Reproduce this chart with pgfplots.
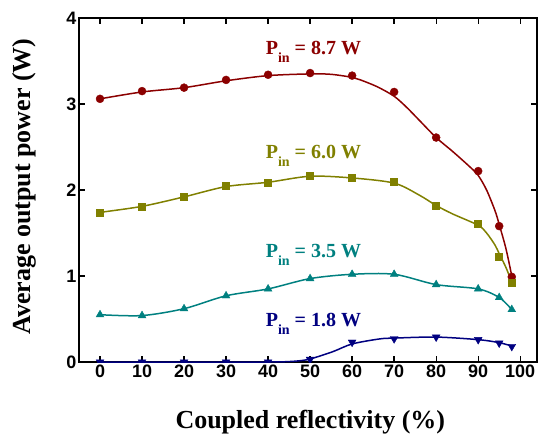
\documentclass[border=0pt]{standalone}
\usepackage{pgfplots}
\pgfplotsset{compat=1.18}
\usepackage{fontspec}
\setmainfont{Liberation Serif}
\setsansfont{Liberation Sans}
\definecolor{cwine}{RGB}{139,0,0}
\definecolor{colive}{RGB}{128,128,0}
\definecolor{cteal}{RGB}{0,128,128}
\definecolor{cnavy}{RGB}{0,0,128}
\newcommand{\Pin}[1]{P\raisebox{-8pt}{\fontsize{14}{14}\selectfont in} = #1 W}
\begin{document}
\begin{tikzpicture}
\useasboundingbox (-79pt,-72pt) rectangle (461pt,362pt);
\begin{axis}[
  at={(0pt,0pt)}, anchor=south west,
  scale only axis, width=458pt, height=344pt,
  xmin=-5, xmax=104, ymin=0, ymax=4,
  xtick={0,10,...,100}, ytick={0,1,2,3,4},
  tick align=inside, major tick length=6pt,
  axis line style={line width=1.3pt},
  every tick/.style={black, line width=1.3pt},
  tick label style={font=\fontsize{18}{20}\selectfont\sffamily\bfseries, inner sep=2.5pt},
  /pgf/number format/assume math mode=true,
  label style={font=\fontsize{26}{30}\selectfont\bfseries},
  xlabel={Coupled reflectivity (\%)},
  ylabel={Average output power (W)},
  xlabel style={at={(axis description cs:0.505,-0.192)}, anchor=base},
  ylabel style={at={(axis description cs:-0.105,0.51)}, anchor=base},
  clip marker paths=true,
  curve/.style={line width=1.5pt, smooth, tension=0.5, no marks},
]
% fitted curves
\addplot[cwine, curve] coordinates {
(0,3.06)(10,3.14)(20,3.19)(30,3.27)(40,3.33)(50,3.35)(55,3.345)(60,3.31)(62,3.28)(66,3.20)(70,3.09)(73,2.96)(76,2.81)(80,2.61)(84,2.445)(88,2.27)(90,2.17)(92,2.00)(94,1.76)(95,1.60)(96.6,1.32)(98,1.00)};
\addplot[colive, curve] coordinates {
(0,1.74)(10,1.81)(20,1.92)(30,2.04)(40,2.09)(50,2.16)(60,2.14)(70,2.08)(76,1.94)(80,1.82)(84,1.72)(90,1.59)(92,1.50)(94,1.36)(95,1.26)(96.6,1.10)(98,0.93)};
\addplot[cteal, curve] coordinates {
(0,0.55)(10,0.54)(20,0.62)(30,0.77)(40,0.85)(50,0.97)(60,1.02)(70,1.02)(80,0.90)(90,0.85)(95,0.75)(98,0.61)};
\addplot[cnavy, curve] coordinates {
(0,0)(10,0)(20,0)(30,0)(40,0)(43.5,0.002)(47,0.012)(50,0.035)(55.4,0.12)(60,0.21)(66.5,0.268)(70,0.278)(80,0.29)(90,0.26)(95,0.225)(98,0.185)};
% measured points
\addplot[cwine, only marks, mark=*, mark size=4pt] coordinates {
(0,3.06)(10,3.15)(20,3.19)(30,3.28)(40,3.34)(50,3.36)(60,3.33)(70,3.14)(80,2.61)(90,2.22)(95,1.58)(98,0.99)};
\addplot[colive, only marks, mark=square*, mark size=3.5pt] coordinates {
(0,1.74)(10,1.81)(20,1.92)(30,2.05)(40,2.09)(50,2.17)(60,2.14)(70,2.10)(80,1.82)(90,1.61)(95,1.23)(98,0.92)};
\addplot[cteal, only marks, mark=triangle*, mark size=4.5pt] coordinates {
(0,0.55)(10,0.54)(20,0.62)(30,0.77)(40,0.85)(50,0.97)(60,1.02)(70,1.02)(80,0.90)(90,0.85)(95,0.75)(98,0.61)};
\addplot[cnavy, only marks, mark=triangle*, mark size=4.5pt, mark options={rotate=180}] coordinates {
(0,0)(10,0)(20,0)(30,0)(40,0)(50,0.03)(60,0.23)(70,0.27)(80,0.29)(90,0.26)(95,0.22)(98,0.18)};
\node[cwine, anchor=base, font=\fontsize{20}{24}\selectfont\bfseries] at (axis cs:50.8,3.58) {\Pin{8.7}};
\node[colive, anchor=base, font=\fontsize{20}{24}\selectfont\bfseries] at (axis cs:50.8,2.37) {\Pin{6.0}};
\node[cteal, anchor=base, font=\fontsize{20}{24}\selectfont\bfseries] at (axis cs:50.8,1.22) {\Pin{3.5}};
\node[cnavy, anchor=base, font=\fontsize{20}{24}\selectfont\bfseries] at (axis cs:50.8,0.41) {\Pin{1.8}};
\end{axis}
\end{tikzpicture}
\end{document}
